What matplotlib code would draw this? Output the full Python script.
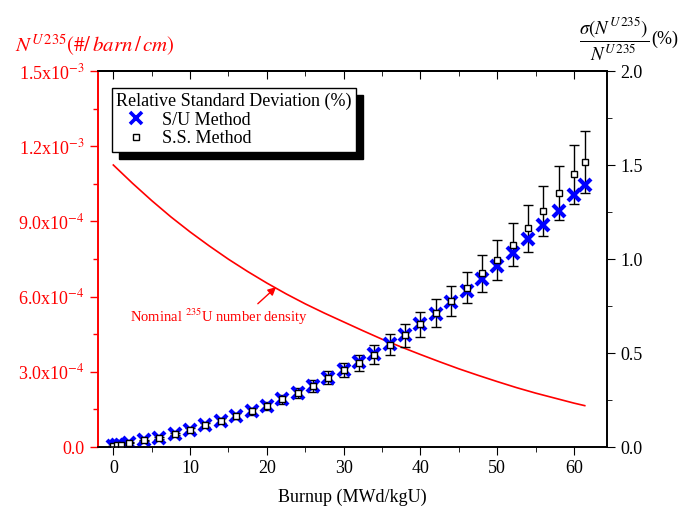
import matplotlib
matplotlib.use("Agg")
import matplotlib.pyplot as plt
from matplotlib.ticker import MultipleLocator, FixedLocator, FormatStrFormatter
from matplotlib.lines import Line2D

plt.rcParams['font.family'] = ['Liberation Serif', 'DejaVu Serif']
plt.rcParams['mathtext.fontset'] = 'stix'

burnup = [0, 0.5, 1, 2, 4, 6, 8, 10, 12, 14, 16, 18, 20, 22, 24, 26, 28, 30,
          32, 34, 36, 38, 40, 42, 44, 46, 48, 50, 52, 54, 56, 58, 60, 61.4]
su_rsd = [0.005, 0.008, 0.012, 0.022, 0.035, 0.05, 0.069, 0.09, 0.115, 0.14,
          0.165, 0.19, 0.22, 0.254, 0.287, 0.326, 0.367, 0.407, 0.45, 0.496,
          0.546, 0.597, 0.652, 0.708, 0.77, 0.832, 0.895, 0.963, 1.034, 1.106,
          1.18, 1.257, 1.34, 1.394]
ss_rsd = [0.005, 0.008, 0.012, 0.022, 0.035, 0.05, 0.069, 0.09, 0.115, 0.14,
          0.165, 0.19, 0.22, 0.254, 0.287, 0.326, 0.368, 0.41, 0.447, 0.492,
          0.543, 0.595, 0.652, 0.713, 0.777, 0.848, 0.924, 0.995, 1.076, 1.163,
          1.255, 1.35, 1.45, 1.515]
ss_err = [0.001, 0.001, 0.001, 0.002, 0.003, 0.005, 0.007, 0.009, 0.011, 0.013,
          0.016, 0.018, 0.021, 0.024, 0.028, 0.031, 0.034, 0.037, 0.044, 0.05,
          0.056, 0.061, 0.068, 0.073, 0.08, 0.084, 0.097, 0.105, 0.113, 0.125,
          0.135, 0.145, 0.158, 0.164]

curve_x = [0, 2.5, 5, 7.5, 10, 12.5, 15, 17.5, 20, 22.5, 25, 27.5, 30, 32.5,
           35, 37.5, 40, 42.5, 45, 47.5, 50, 52.5, 55, 57.5, 60, 61.4]
curve_n = [1.125e-3, 1.052e-3, 0.983e-3, 0.918e-3, 0.858e-3, 0.802e-3,
           0.749e-3, 0.700e-3, 0.654e-3, 0.611e-3, 0.571e-3, 0.534e-3,
           0.499e-3, 0.464e-3, 0.430e-3, 0.399e-3, 0.369e-3, 0.340e-3,
           0.312e-3, 0.286e-3, 0.261e-3, 0.237e-3, 0.215e-3, 0.195e-3,
           0.175e-3, 0.165e-3]

left_ticks = [0.0, 3e-4, 6e-4, 9e-4, 1.2e-3, 1.5e-3]
left_labels = ['0.0', r'3.0x10$^{-4}$', r'6.0x10$^{-4}$', r'9.0x10$^{-4}$',
               r'1.2x10$^{-3}$', r'1.5x10$^{-3}$']

fig = plt.figure(figsize=(6.88, 5.09), dpi=100)
ax = fig.add_axes([0.1424, 0.1218, 0.7399, 0.7387])
ax2 = ax.twinx()

red = '#ff0000'
ax.plot(curve_x, curve_n, color=red, lw=1.2)
ax.set_xlim(-2, 64.3)
ax.set_ylim(0, 1.5e-3)
ax.yaxis.set_major_locator(FixedLocator(left_ticks))
ax.set_yticklabels(left_labels)
ax.yaxis.set_minor_locator(MultipleLocator(1.5e-4))
ax.xaxis.set_major_locator(MultipleLocator(10))
ax.xaxis.set_minor_locator(MultipleLocator(5))
ax.tick_params(axis='y', which='both', colors=red, labelsize=13, direction='out')
ax.tick_params(axis='y', which='major', length=6, width=1)
ax.tick_params(axis='y', which='minor', length=3.5, width=1)
ax.tick_params(axis='x', which='major', length=6, labelsize=13, direction='out')
ax.tick_params(axis='x', which='minor', length=3.5, direction='out')
ax.spines['left'].set_color(red)
for s in ax.spines.values():
    s.set_linewidth(1.2)
ax.set_xlabel('Burnup (MWd/kgU)', fontsize=13, labelpad=8)

# top ticks pointing inward
sec = ax.secondary_xaxis('top')
sec.xaxis.set_major_locator(MultipleLocator(10))
sec.xaxis.set_minor_locator(MultipleLocator(5))
sec.tick_params(axis='x', which='major', direction='in', length=6, labeltop=False)
sec.tick_params(axis='x', which='minor', direction='in', length=3.5)
sec.spines['top'].set_linewidth(1.2)

ax.annotate('Nominal $^{235}$U number density', xy=(21.2, 0.638e-3),
            xytext=(2.2, 0.52e-3), fontsize=10.5, color=red,
            arrowprops=dict(arrowstyle='-|>', color=red, lw=1,
                            shrinkA=0, shrinkB=0, mutation_scale=12,
                            relpos=(0.7, 1.0)),
            ha='left', va='center')
ax.text(-0.163, 1.035, r'$N^{U\,235}(\#/\,barn\,/\,cm)$', transform=ax.transAxes,
        color=red, fontsize=15, ha='left', va='bottom')

h_ss = ax2.errorbar(burnup, ss_rsd, yerr=ss_err, fmt='s', mfc='white', mec='black',
                    mew=1, ms=5, ecolor='black', elinewidth=1, capsize=3.5,
                    capthick=1)
h_su, = ax2.plot(burnup, su_rsd, 'x', color='#0000ff', ms=8.5, mew=3, ls='none')
ax2.set_ylim(0, 2.0)
ax2.yaxis.set_major_locator(MultipleLocator(0.5))
ax2.yaxis.set_minor_locator(MultipleLocator(0.25))
ax2.yaxis.set_major_formatter(FormatStrFormatter('%.1f'))
ax2.tick_params(axis='y', which='major', length=6, labelsize=13)
ax2.tick_params(axis='y', which='minor', length=3.5)
ax2.spines['left'].set_color(red)
for s in ax2.spines.values():
    s.set_linewidth(1.2)
ax2.text(1.014, 1.085, r'$\dfrac{\sigma(N^{U\,235})}{N^{U\,235}}$', transform=ax2.transAxes,
         fontsize=13.5, ha='center', va='center')
ax2.text(1.086, 1.085, '(%)', transform=ax2.transAxes,
         fontsize=13, ha='left', va='center')

p_su = Line2D([], [], marker='x', color='#0000ff', ms=8, mew=2.6, ls='none')
p_ss = Line2D([], [], marker='s', mfc='white', mec='black', mew=1, ms=5, ls='none')
leg = ax2.legend([p_su, p_ss], ['S/U Method', 'S.S. Method'],
                 title='Relative Standard Deviation (%)', loc='upper left',
                 bbox_to_anchor=(0.0275, 0.955), fontsize=13, title_fontsize=13,
                 frameon=True, fancybox=False, edgecolor='black', framealpha=1,
                 shadow={'color': 'black', 'alpha': 1, 'ox': 5, 'oy': -5},
                 handletextpad=0.3, borderpad=0.25, labelspacing=0.1,
                 handlelength=2.2, borderaxespad=0)
leg.get_frame().set_linewidth(1)
leg._legend_box.align = 'left'

fig.savefig('out.png', dpi=100)
